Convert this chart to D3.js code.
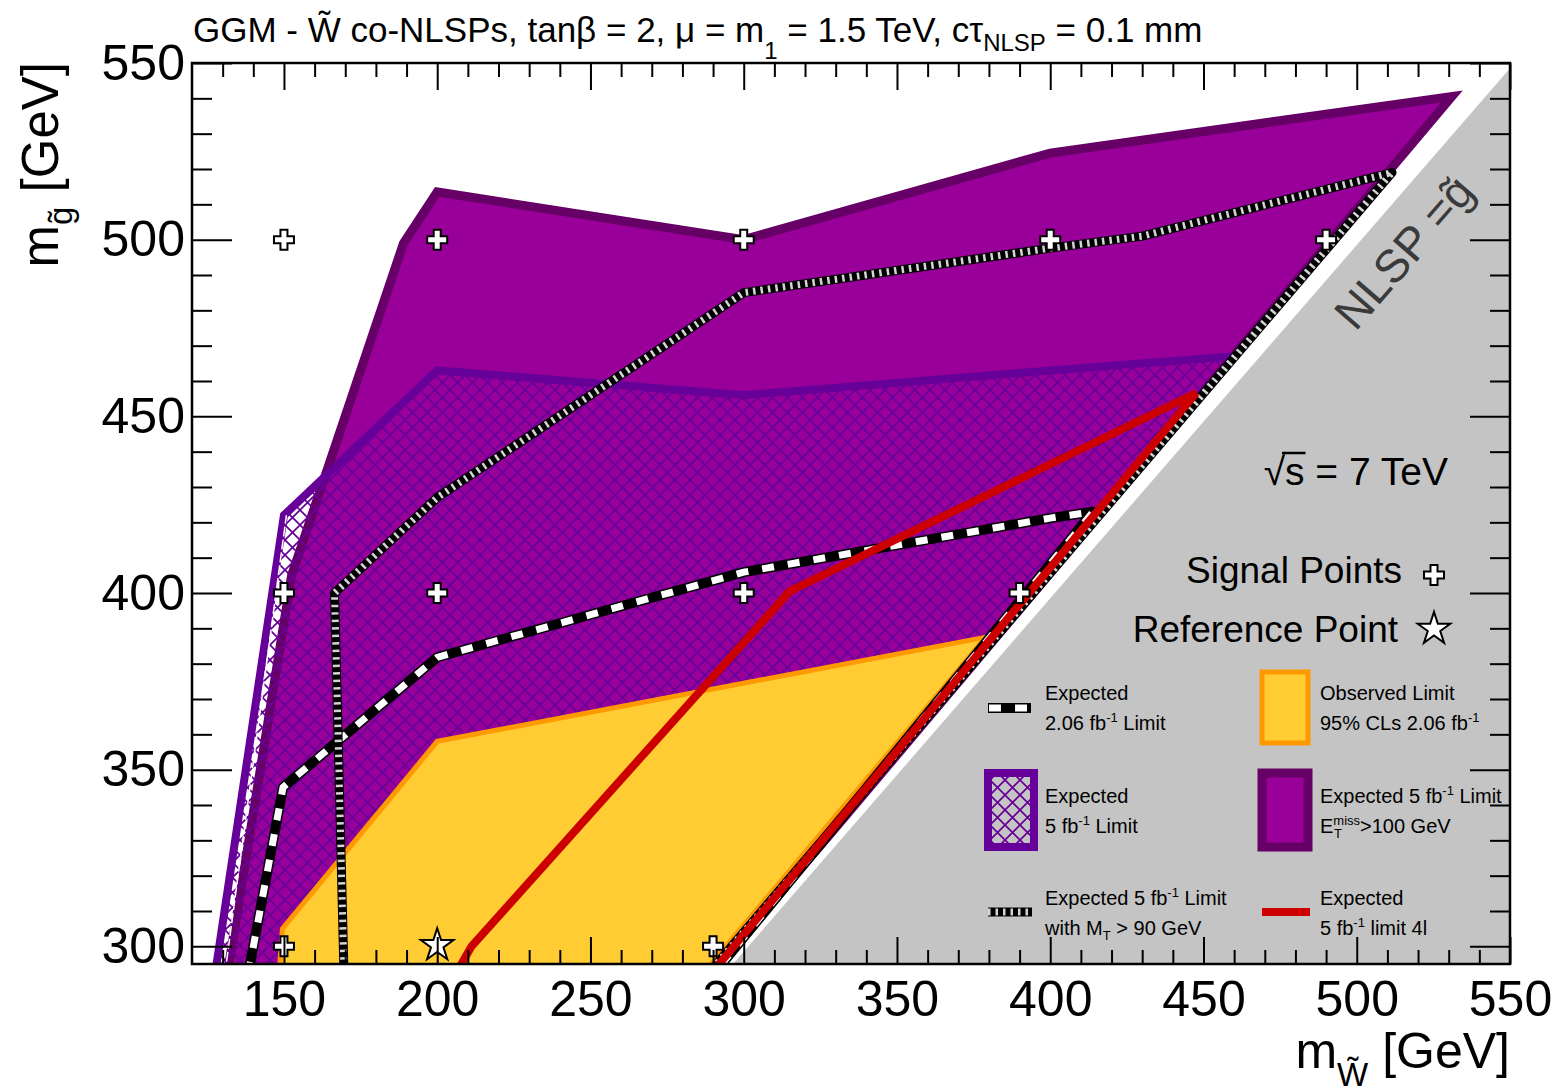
<!DOCTYPE html>
<html><head><meta charset="utf-8">
<script src="https://cdn.jsdelivr.net/npm/d3@7"></script>
<style>
body{margin:0;background:#fff}
svg{display:block}
text{font-family:"Liberation Sans",Arial,Helvetica,sans-serif;fill:#000}
</style>
</head><body><svg id="c" width="1564" height="1092"></svg>
<script>
// ---------------- data ----------------
const xDomain = [120, 550];
const yDomain = [295, 550];
const xMajorTicks = [150, 200, 250, 300, 350, 400, 450, 500, 550];
const yMajorTicks = [300, 350, 400, 450, 500, 550];
const xMinorTicks = [130,140,160,170,180,190,210,220,230,240,260,270,280,290,310,320,330,340,360,370,380,390,410,420,430,440,460,470,480,490,510,520,530,540];
const yMinorTicks = [310,320,330,340,360,370,380,390,410,420,430,440,460,470,480,490,510,520,530,540];

// regions [m_W, m_gluino] (bottom vertices continue just below the frame)
const nlspRegion = [[292,292],[550,550],[550,292]];
const nlspBoundary = [[290,290],[555,555]];
const etmissRegion = [[131.5,292],[152.5,405],[189,499],[200,513.5],[300,500],[400,524.5],[531,540.5],[289.6,292]];
const expected5Region = [[127.5,292],[150,422],[200,463],[300,456],[400,463],[460,467],[285,292]];
const observedRegion = [[148.4,292],[149.5,305],[200,358],[379,387.5],[286.5,292]];
// lines
const expected206Line = [[138.3,292],[149.7,345],[200,381.8],[300,405.9],[400,421.2],[414,423],[290,292]];
const expectedMTLine = [[169.6,292],[166.5,400],[200,427],[300,485],[400,497.6],[430,501],[511.5,519],[288.2,292]];
const expected4lLine = [[205.9,292],[211.2,300],[315,400.5],[447.6,456.6],[289.1,292]];
const thinWhiteLine = [[130.7,292],[150.8,422]];
// points
const signalX = [150,200,300,400,490,150,200,300,390,150,290];
const signalY = [500,500,500,500,500,400,400,400,400,300,300];
const referencePoint = [200,300];

// ---------------- drawing ----------------
const svg = d3.select('#c');
const L = 192, R = 1510, T = 63, B = 964;
const x = d3.scaleLinear().domain(xDomain).range([L, R]);
const y = d3.scaleLinear().domain(yDomain).range([B, T]);
const line = d3.line().x(d => x(d[0])).y(d => y(d[1]));

const defs = svg.append('defs');
defs.append('clipPath').attr('id','plotclip').append('rect')
  .attr('x',L).attr('y',T).attr('width',R-L).attr('height',B-T);
const pat = defs.append('pattern').attr('id','hatch').attr('patternUnits','userSpaceOnUse')
  .attr('width',15).attr('height',15);
pat.append('path').attr('d','M0,0L15,15M15,0L0,15')
  .attr('stroke','#660099').attr('stroke-width',1.7).attr('fill','none');

const g = svg.append('g').attr('clip-path','url(#plotclip)');

g.append('path').attr('d', line(etmissRegion)+'Z')
  .attr('fill','#990099').attr('stroke','#660066').attr('stroke-width',9).attr('stroke-linejoin','miter');
g.append('path').attr('d', line(expected5Region)+'Z')
  .attr('fill','url(#hatch)').attr('stroke','#660099').attr('stroke-width',8).attr('stroke-linejoin','miter');
g.append('path').attr('d', line(observedRegion)+'Z')
  .attr('fill','#ffcc33').attr('stroke','#ff9900').attr('stroke-width',5).attr('stroke-linejoin','miter');
g.append('path').attr('d', line(nlspRegion)+'Z').attr('fill','#c4c4c4');
g.append('path').attr('d', line(nlspBoundary)).attr('stroke','#fff').attr('stroke-width',7).attr('fill','none');
g.append('path').attr('d', line(thinWhiteLine)).attr('stroke','#fff').attr('stroke-width',1.5)
  .attr('stroke-dasharray','10,3').attr('fill','none');

function bwDashed(sel, d){
  sel.append('path').attr('d', d).attr('fill','none').attr('stroke','#000').attr('stroke-width',10).attr('stroke-linejoin','round');
  sel.append('path').attr('d', d).attr('fill','none').attr('stroke','#fff').attr('stroke-width',7)
    .attr('stroke-dasharray','12,14').attr('stroke-dashoffset',-1);
}
function striped(sel, d){
  sel.append('path').attr('d', d).attr('fill','none').attr('stroke','#000').attr('stroke-width',9).attr('stroke-linejoin','round');
  sel.append('path').attr('d', d).attr('fill','none').attr('stroke','#d4d4d4').attr('stroke-width',7)
    .attr('stroke-dasharray','2.5,5');
}
bwDashed(g, line(expected206Line));
striped(g, line(expectedMTLine));
g.append('path').attr('d', line(expected4lLine)).attr('fill','none')
  .attr('stroke','#cc0000').attr('stroke-width',8).attr('stroke-linejoin','miter');

const plusPath = 'M-3.5,-10H3.5V-3.5H10V3.5H3.5V10H-3.5V3.5H-10V-3.5H-3.5Z';
const starSym = d3.symbol(d3.symbolStar, 330)();
g.selectAll('.sig').data(signalX.map((v,i)=>[v,signalY[i]])).enter().append('path')
  .attr('d', plusPath).attr('transform', d => `translate(${x(d[0])},${y(d[1])})`)
  .attr('fill','#fff').attr('stroke','#000').attr('stroke-width',2);
g.append('path').attr('d', starSym)
  .attr('transform', `translate(${x(referencePoint[0])},${y(referencePoint[1])-1})`)
  .attr('fill','#fff').attr('stroke','#000').attr('stroke-width',2);

// ---------------- axes ----------------
function styleAxis(a){ a.select('.domain').remove(); a.selectAll('line').attr('stroke','#000').attr('stroke-width',2);
  a.selectAll('text').attr('font-size',50).attr('font-family','"Liberation Sans",Arial,sans-serif').attr('fill','#000'); }
styleAxis(svg.append('g').attr('transform',`translate(0,${B})`)
  .call(d3.axisBottom(x).tickValues(xMajorTicks).tickSizeInner(-27).tickSizeOuter(0).tickPadding(16).tickFormat(d3.format('d'))));
styleAxis(svg.append('g').attr('transform',`translate(0,${B})`)
  .call(d3.axisBottom(x).tickValues(xMinorTicks).tickSizeInner(-14).tickSizeOuter(0).tickFormat('')));
styleAxis(svg.append('g').attr('transform',`translate(0,${T})`)
  .call(d3.axisTop(x).tickValues(xMajorTicks).tickSizeInner(-27).tickSizeOuter(0).tickFormat('')));
styleAxis(svg.append('g').attr('transform',`translate(0,${T})`)
  .call(d3.axisTop(x).tickValues(xMinorTicks).tickSizeInner(-14).tickSizeOuter(0).tickFormat('')));
styleAxis(svg.append('g').attr('transform',`translate(${L},0)`)
  .call(d3.axisLeft(y).tickValues(yMajorTicks).tickSizeInner(-40).tickSizeOuter(0).tickPadding(7).tickFormat(d3.format('d'))));
styleAxis(svg.append('g').attr('transform',`translate(${L},0)`)
  .call(d3.axisLeft(y).tickValues(yMinorTicks).tickSizeInner(-20).tickSizeOuter(0).tickFormat('')));
styleAxis(svg.append('g').attr('transform',`translate(${R},0)`)
  .call(d3.axisRight(y).tickValues(yMajorTicks).tickSizeInner(-40).tickSizeOuter(0).tickFormat('')));
styleAxis(svg.append('g').attr('transform',`translate(${R},0)`)
  .call(d3.axisRight(y).tickValues(yMinorTicks).tickSizeInner(-20).tickSizeOuter(0).tickFormat('')));
svg.append('rect').attr('x',L).attr('y',T).attr('width',R-L).attr('height',B-T)
  .attr('fill','none').attr('stroke','#000').attr('stroke-width',2.5);

// ---------------- texts ----------------
const title = svg.append('text').attr('x',193).attr('y',42).attr('font-size',35);
title.append('tspan').text('GGM - W\u0303 co-NLSPs, tan\u03B2 = 2, \u03BC = m');
title.append('tspan').attr('font-size',24).attr('dy',17).text('1');
title.append('tspan').attr('dy',-17).text(' = 1.5 TeV, c\u03C4');
title.append('tspan').attr('font-size',24).attr('dy',9).text('NLSP');
title.append('tspan').attr('dy',-9).text(' = 0.1 mm');

const yl = svg.append('text').attr('transform','translate(58,62) rotate(-90)').attr('text-anchor','end').attr('font-size',51);
yl.append('tspan').text('m');
yl.append('tspan').attr('font-size',33).attr('dy',14).text('g\u0303');
yl.append('tspan').attr('dy',-14).text(' [GeV]');
const xl = svg.append('text').attr('x',1510).attr('y',1068).attr('text-anchor','end').attr('font-size',50);
xl.append('tspan').text('m');
xl.append('tspan').attr('font-size',33).attr('dy',18).text('W\u0303');
xl.append('tspan').attr('dy',-18).text(' [GeV]');

svg.append('text').attr('transform','translate(1404,252) rotate(-49)').attr('text-anchor','middle')
  .attr('y',16).attr('font-size',46).style('fill','#3a3a3a').text('NLSP =g\u0303');

const sq = svg.append('text').attr('x',1448).attr('y',485).attr('text-anchor','end').attr('font-size',39).text('\u221As = 7 TeV');
{
  const n = sq.node();
  const s1 = n.getEndPositionOfChar(1).x, r1 = n.getEndPositionOfChar(0).x;
  svg.append('line').attr('x1', r1 - 3).attr('x2', s1 + 1).attr('y1', 453).attr('y2', 453).attr('stroke','#000').attr('stroke-width',2.5);
}
svg.append('text').attr('x',1402).attr('y',583).attr('text-anchor','end').attr('font-size',37).text('Signal Points');
svg.append('path').attr('d',plusPath).attr('transform','translate(1434,575)').attr('fill','#fff').attr('stroke','#000').attr('stroke-width',2);
svg.append('text').attr('x',1398).attr('y',642).attr('text-anchor','end').attr('font-size',37).text('Reference Point');
svg.append('path').attr('d',starSym).attr('transform','translate(1434,629)').attr('fill','#fff').attr('stroke','#000').attr('stroke-width',2);

const leg = svg.append('g');
function twoLine(x0, yb, parts1, parts2){
  [parts1, parts2].forEach((parts, k) => {
    const t = leg.append('text').attr('x', x0).attr('y', yb + k*30).attr('font-size',20);
    parts.forEach(p => {
      const ts = t.append('tspan').text(p.t);
      if (p.sup) ts.attr('font-size',13).attr('dy',-8);
      if (p.sub) ts.attr('font-size',13).attr('dy',5);
      if (p.back) ts.attr('dy',p.back);
      if (p.dx) ts.attr('dx',p.dx);
    });
  });
}
const s1g = leg.append('g');
bwDashed(s1g, 'M988,708H1031');
twoLine(1045, 700, [{t:'Expected'}], [{t:'2.06 fb'},{t:'-1',sup:1},{t:' Limit',back:8}]);
leg.append('rect').attr('x',1262).attr('y',672).attr('width',46).attr('height',71)
  .attr('fill','#ffcc33').attr('stroke','#ff9900').attr('stroke-width',5);
twoLine(1320, 700, [{t:'Observed Limit'}], [{t:'95% CLs 2.06 fb'},{t:'-1',sup:1}]);
leg.append('rect').attr('x',988).attr('y',773).attr('width',46).attr('height',74)
  .attr('fill','url(#hatch)').attr('stroke','#660099').attr('stroke-width',8);
twoLine(1045, 803, [{t:'Expected'}], [{t:'5 fb'},{t:'-1',sup:1},{t:' Limit',back:8}]);
leg.append('rect').attr('x',1262).attr('y',773).attr('width',46).attr('height',74)
  .attr('fill','#990099').attr('stroke','#660066').attr('stroke-width',9);
twoLine(1320, 803, [{t:'Expected 5 fb'},{t:'-1',sup:1},{t:' Limit',back:8}],
  [{t:'E'},{t:'miss',sup:1},{t:'T',sub:1,dx:-26,back:13},{t:'>100 GeV',dx:18,back:-5}]);
const s3g = leg.append('g');
striped(s3g, 'M988,912H1032');
twoLine(1045, 905, [{t:'Expected 5 fb'},{t:'-1',sup:1},{t:' Limit',back:8}],
  [{t:'with M'},{t:'T',sub:1},{t:' > 90 GeV',back:-5}]);
leg.append('line').attr('x1',1262).attr('x2',1310).attr('y1',912).attr('y2',912).attr('stroke','#cc0000').attr('stroke-width',8);
twoLine(1320, 905, [{t:'Expected'}], [{t:'5 fb'},{t:'-1',sup:1},{t:' limit 4l',back:8}]);
</script>
</body></html>
